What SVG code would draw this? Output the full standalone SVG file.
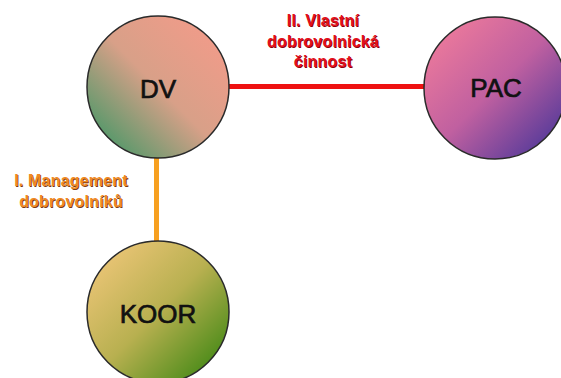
<svg xmlns="http://www.w3.org/2000/svg" width="561" height="378" viewBox="0 0 561 378">
<style>
.node{stroke:#2a2a2a;stroke-width:1.5}
.nl{font-family:"Liberation Sans",Arial,sans-serif;font-size:26px;fill:#111;stroke:#111;stroke-width:0.7;text-anchor:middle}
.el{font-family:"Liberation Sans",Arial,sans-serif;font-size:16px;font-weight:bold;text-anchor:middle;letter-spacing:0.2px}
.red{fill:#e3101c}
.redS{fill:#8a0008}
.org{fill:#f08a24}
.orgS{fill:#7a3a10}
</style>
<defs>
<linearGradient id="gDV" x1="1" y1="0" x2="0" y2="1">
<stop offset="0" stop-color="#f89a8a"/>
<stop offset="0.5" stop-color="#d8a088"/>
<stop offset="1" stop-color="#2a9660"/>
</linearGradient>
<linearGradient id="gPAC" x1="0" y1="0" x2="1" y2="1">
<stop offset="0" stop-color="#f8809a"/>
<stop offset="0.5" stop-color="#c060a0"/>
<stop offset="1" stop-color="#3a3098"/>
</linearGradient>
<linearGradient id="gKOOR" x1="0" y1="0" x2="1" y2="1">
<stop offset="0" stop-color="#f8ca80"/>
<stop offset="0.5" stop-color="#b8b050"/>
<stop offset="1" stop-color="#2a8008"/>
</linearGradient>
</defs>
<g id="connectors">
<line x1="229" y1="86.5" x2="425" y2="86.5" stroke="#ee1111" stroke-width="5"/>
<line x1="156.5" y1="157" x2="156.5" y2="242" stroke="#f7a020" stroke-width="5"/>
<g id="label-vlastni">
<text class="el redS" x="323.8" y="26.8">II. Vlastní</text>
<text class="el redS" x="323.8" y="47.8">dobrovolnická</text>
<text class="el redS" x="323.8" y="67.8">činnost</text>
<text class="el red" x="323" y="26">II. Vlastní</text>
<text class="el red" x="323" y="47">dobrovolnická</text>
<text class="el red" x="323" y="67">činnost</text>
</g>
<g id="label-management">
<text class="el orgS" x="71.8" y="186.8">I. Management</text>
<text class="el orgS" x="71.8" y="207.8">dobrovolníků</text>
<text class="el org" x="71" y="186">I. Management</text>
<text class="el org" x="71" y="207">dobrovolníků</text>
</g>
</g>
<g id="DV">
<circle class="node" cx="158" cy="87" r="71" fill="url(#gDV)"/>
<text class="nl" x="158" y="98">DV</text>
</g>
<g id="PAC">
<circle class="node" cx="495" cy="88" r="71" fill="url(#gPAC)"/>
<text class="nl" x="496" y="97">PAC</text>
</g>
<g id="KOOR">
<circle class="node" cx="158" cy="312" r="71" fill="url(#gKOOR)"/>
<text class="nl" x="158" y="323">KOOR</text>
</g>
</svg>
